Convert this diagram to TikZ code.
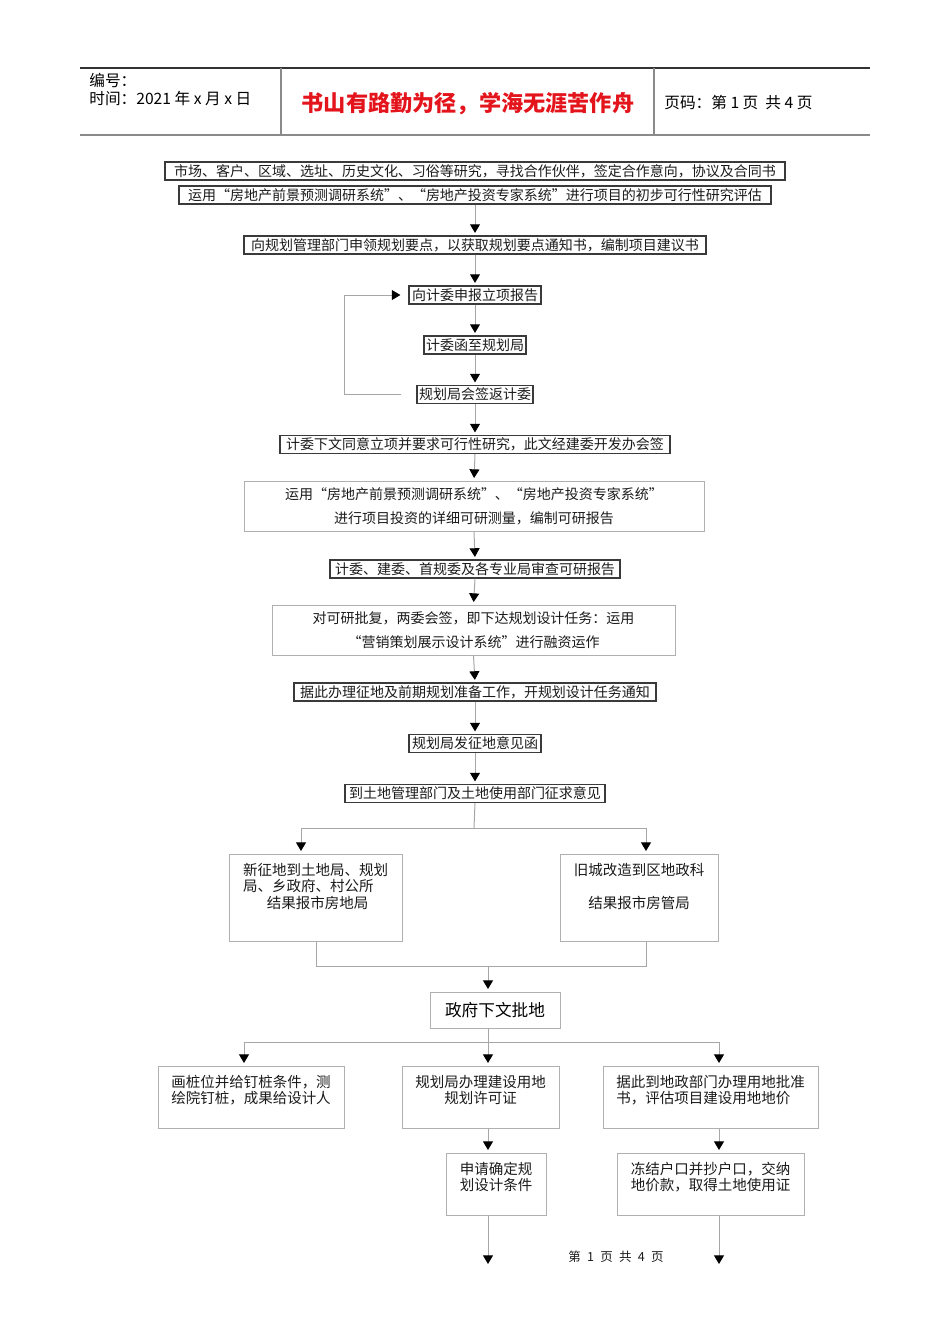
\documentclass[tikz,border=0pt]{standalone}
\usepackage{fontspec}
\setmainfont{Noto Sans CJK SC}
\usetikzlibrary{arrows.meta,positioning}
\definecolor{fcInk}{HTML}{1A1A1A}
\definecolor{fcFrame}{HTML}{3A3A3A}
\definecolor{fcSoft}{HTML}{B0B0B0}
\definecolor{fcLine}{HTML}{A6A6A6}
\definecolor{fcRuleDark}{HTML}{333333}
\definecolor{fcRuleGray}{HTML}{8A8A8A}
\definecolor{fcRed}{HTML}{E3141B}
\newcommand{\pxu}{0.6pt}
\tikzset{
  fc/base/.style={font=\fontsize{8.4}{10}\selectfont, text=fcInk, align=center},
  fc/single/.style={fc/base, draw=fcFrame, line width=0.7pt, inner xsep=1pt,
    inner ysep=0pt, minimum height=18*\pxu},
  fc/twoline/.style={fc/base, draw=fcSoft, line width=0.6pt,
    font=\fontsize{8.4}{14.4}\selectfont, minimum height=50*\pxu},
  fc/cell/.style={draw=fcSoft, line width=0.6pt, inner sep=0pt},
  fc/celltext/.style={fc/base, font=\fontsize{8.7}{10}\selectfont, inner sep=0pt},
  fc/conn/.style={draw=fcLine, line width=0.6pt},
  fc/arrow/.style={fc/conn, -{Triangle[length=5.2pt,width=6pt,color=black,fill=black]},
    shorten >=1.5pt},
  fc/header/.style={font=\fontsize{9.4}{11}\selectfont, text=black, anchor=west,
    inner sep=0pt},
  fc/title/.style={font=\fontsize{13.3}{15}\selectfont\bfseries, text=fcRed},
  fc/footer/.style={font=\fontsize{7.5}{9}\selectfont, text=fcInk},
}

\begin{document}
\begin{tikzpicture}[x=0.6pt, y=-0.6pt]
\useasboundingbox (0,0) rectangle (950,1344);

% page header
\draw[draw=fcRuleDark, line width=0.9pt] (80,68) -- (870,68);
\draw[draw=fcRuleGray, line width=1.2pt] (80,135) -- (870,135);
\draw[draw=fcRuleGray, line width=0.7pt] (281,68) -- (281,135);
\draw[draw=fcRuleGray, line width=0.7pt] (654,68) -- (654,135);
\node[fc/header] (serialNo) at (89,80) {编号：};
\node[fc/header] (dateLine) at (89,99) {时间：2021 年 x 月 x 日};
\node[fc/title] (motto) at (468,104) {书山有路勤为径，学海无涯苦作舟};
\node[fc/header] (pageNo) at (664,103) {页码：第 1 页\ \ 共 4 页};

% project approval chain
\node[fc/single, minimum width=620*\pxu] (b1) at (475,171)
  {市场、客户、区域、选址、历史文化、习俗等研究，寻找合作伙伴，签定合作意向，协议及合同书};
\node[fc/single, minimum width=592*\pxu] (b2) at (475,195)
  {运用“房地产前景预测调研系统”、“房地产投资专家系统”进行项目的初步可行性研究评估};
\node[fc/single, minimum width=462*\pxu] (b3) at (475,245)
  {向规划管理部门申领规划要点，以获取规划要点通知书，编制项目建议书};
\node[fc/single, minimum width=132*\pxu] (b4) at (475,295) {向计委申报立项报告};
\node[fc/single, minimum width=102*\pxu] (b5) at (475,345) {计委函至规划局};
\node[fc/single, minimum width=116*\pxu] (b6) at (475,394.5) {规划局会签返计委};
\node[fc/single, minimum width=390*\pxu] (b7) at (475,444.5)
  {计委下文同意立项并要求可行性研究，此文经建委开发办会签};
\node[fc/twoline, minimum width=460*\pxu] (b8) at (474,506)
  {运用“房地产前景预测调研系统”、“房地产投资专家系统”\\进行项目投资的详细可研测量，编制可研报告};
\node[fc/single, minimum width=290*\pxu] (b9) at (475,569)
  {计委、建委、首规委及各专业局审查可研报告};
\node[fc/twoline, minimum width=403*\pxu] (b10) at (473.5,630)
  {对可研批复，两委会签，即下达规划设计任务：运用\\“营销策划展示设计系统”进行融资运作};
\node[fc/single, minimum width=362*\pxu] (b11) at (475,692)
  {据此办理征地及前期规划准备工作，开规划设计任务通知};
\node[fc/single, minimum width=132*\pxu] (b12) at (475,743.5) {规划局发征地意见函};
\node[fc/single, minimum width=260*\pxu] (b13) at (475,793.5)
  {到土地管理部门及土地使用部门征求意见};

\foreach \a/\b in {b2/b3, b3/b4, b4/b5, b5/b6, b6/b7, b7/b8, b8/b9, b9/b10,
                   b10/b11, b11/b12, b12/b13}
  \draw[fc/arrow] (\a.south) -- (\b.north);
\draw[fc/arrow, shorten <=9pt, shorten >=4.8pt] (b6.west) -- ++(-72,0) |- (b4.west);

% land requisition
\node[fc/cell, minimum width=173*\pxu, minimum height=87*\pxu] (b14) at (315.5,897.5) {};
\node[fc/celltext, align=left, below=5.4pt of b14.north] (b14txt)
  {新征地到土地局、规划\\局、乡政府、村公所\\\hspace*{1.65em}结果报市房地局};
\node[fc/cell, minimum width=158*\pxu, minimum height=87*\pxu] (b15) at (639,897.5) {};
\node[fc/celltext, below=5.4pt of b15.north] (b15txt)
  {旧城改造到区地政科\\[10pt]结果报市房管局};
\node[fc/cell, minimum width=130*\pxu, minimum height=36*\pxu,
  font=\fontsize{10}{12}\selectfont] (b16) at (495,1010) {政府下文批地};

\coordinate (splitM) at (474,828);
\coordinate (splitL) at (301,828);
\coordinate (splitR) at (646,828);
\draw[fc/conn] (b13.south) -- (splitM);
\draw[fc/conn] (splitL) -- (splitR);
\draw[fc/arrow] (splitL) -- (splitL |- b14.north);
\draw[fc/arrow] (splitR) -- (splitR |- b15.north);

\coordinate (mergeL) at (316,966);
\coordinate (mergeM) at (488,966);
\coordinate (mergeR) at (646,966);
\draw[fc/conn] (b14.south -| mergeL) -- (mergeL) -- (mergeR) -- (b15.south -| mergeR);
\draw[fc/arrow] (mergeM) -- (mergeM |- b16.north);

% after the approval
\node[fc/cell, minimum width=186*\pxu, minimum height=62*\pxu] (b17) at (251,1097) {};
\node[fc/celltext, below=5.4pt of b17.north] (b17txt)
  {画桩位并给钉桩条件，测\\绘院钉桩，成果给设计人};
\node[fc/cell, minimum width=157*\pxu, minimum height=62*\pxu] (b18) at (480.5,1097) {};
\node[fc/celltext, below=5.4pt of b18.north] (b18txt) {规划局办理建设用地\\规划许可证};
\node[fc/cell, minimum width=215*\pxu, minimum height=62*\pxu] (b19) at (710.5,1097) {};
\node[fc/celltext, align=left, below=5.4pt of b19.north] (b19txt)
  {据此到地政部门办理用地批准\\书，评估项目建设用地地价};
\node[fc/cell, minimum width=100*\pxu, minimum height=62*\pxu] (b20) at (496,1184) {};
\node[fc/celltext, below=5.4pt of b20.north] (b20txt) {申请确定规\\划设计条件};
\node[fc/cell, minimum width=187*\pxu, minimum height=62*\pxu] (b21) at (710.5,1184) {};
\node[fc/celltext, below=5.4pt of b21.north] (b21txt)
  {冻结户口并抄户口，交纳\\地价款，取得土地使用证};

\coordinate (fanL) at (244,1042);
\coordinate (fanM) at (488,1042);
\coordinate (fanR) at (719,1042);
\coordinate (nextM) at (488,1264);
\coordinate (nextR) at (719,1264);
\draw[fc/conn] (b16.south -| fanM) -- (fanM);
\draw[fc/conn] (fanL) -- (fanR);
\draw[fc/arrow] (fanL) -- (fanL |- b17.north);
\draw[fc/arrow] (fanM) -- (fanM |- b18.north);
\draw[fc/arrow] (fanR) -- (fanR |- b19.north);
\draw[fc/arrow] (b18.south -| fanM) -- (b20.north -| fanM);
\draw[fc/arrow] (b19.south -| fanR) -- (b21.north -| fanR);
\draw[fc/arrow, shorten >=0pt] (b20.south -| fanM) -- (nextM);
\draw[fc/arrow, shorten >=0pt] (b21.south -| fanR) -- (nextR);

\node[fc/footer] (footer) at (616,1257)
  {第\enspace 1\enspace 页\enspace 共\enspace 4\enspace 页};
\end{tikzpicture}
\end{document}
